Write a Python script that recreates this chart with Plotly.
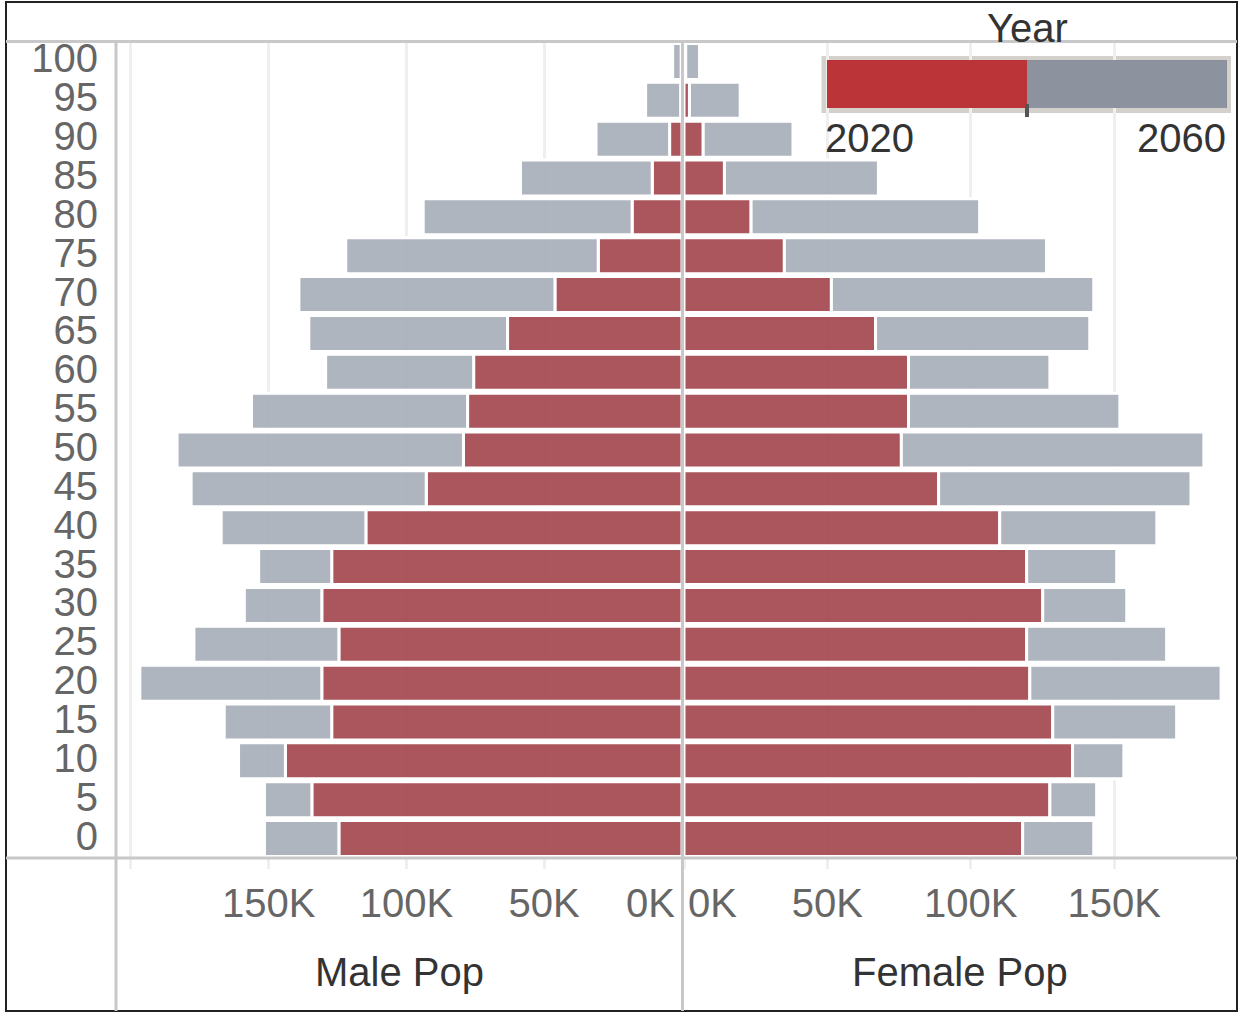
import plotly.graph_objects as go

# ---------------- data ----------------
ages = [0, 5, 10, 15, 20, 25, 30, 35, 40, 45, 50, 55, 60, 65, 70, 75, 80, 85, 90, 95, 100]
age_labels = [str(a) for a in ages]

male_2020 = [124.5, 134.3, 143.9, 127.1, 130.7, 124.5, 130.7, 127.1, 114.7, 92.8, 79.3,
             77.8, 75.6, 63.3, 46.1, 30.4, 18.1, 10.8, 4.5, 0.5, 0.3]
male_2060 = [151.5, 151.5, 160.9, 166.1, 196.7, 177.1, 158.8, 153.6, 167.2, 178.1, 183.2,
             156.2, 129.3, 135.4, 139.0, 122.0, 93.9, 58.6, 31.2, 13.2, 3.4]
female_2020 = [118.1, 127.6, 135.5, 128.6, 120.6, 119.5, 125.1, 119.5, 110.1, 88.8, 75.8,
               78.3, 78.3, 66.8, 51.4, 35.0, 23.4, 14.1, 6.7, 1.9, 0.6]
female_2060 = [142.9, 143.9, 153.4, 171.8, 187.3, 168.3, 154.4, 150.9, 164.9, 176.8, 181.3,
               152.0, 127.6, 141.5, 142.9, 126.4, 103.1, 67.8, 38.0, 19.6, 5.4]

male_ticks = [0, 50, 100, 150, 200]
male_ticktext = ["", "50K", "100K", "150K", ""]
female_ticks = [0, 50, 100, 150]
female_ticktext = ["", "50K", "100K", "150K"]

legend_years = [2020, 2040, 2060]   # range start, handle, range end

# ---------------- styling ----------------
W, H = 1243, 1015
FONT = "Liberation Sans, Arial, sans-serif"
RED = "rgba(162,67,74,0.9)"
GRAY = "rgba(166,173,184,0.9)"
GRID = "#efefef"
RULE = "#c8c8c8"


def px(x):
    return x / W


def py(y):
    return 1 - y / H


K = 1000
fig = go.Figure()

bar_line = dict(color="white", width=3)

# male
fig.add_trace(go.Bar(y=ages, x=[v * K for v in male_2020], orientation="h",
                     marker=dict(color=RED, line=bar_line), xaxis="x", yaxis="y",
                     name="2020", showlegend=False))
fig.add_trace(go.Bar(y=ages, x=[(t - r) * K for t, r in zip(male_2060, male_2020)],
                     base=[r * K for r in male_2020], orientation="h",
                     marker=dict(color=GRAY, line=bar_line), xaxis="x", yaxis="y",
                     name="2060", showlegend=False))
# female
fig.add_trace(go.Bar(y=ages, x=[v * K for v in female_2020], orientation="h",
                     marker=dict(color=RED, line=bar_line), xaxis="x2", yaxis="y2",
                     name="2020", showlegend=False))
fig.add_trace(go.Bar(y=ages, x=[(t - r) * K for t, r in zip(female_2060, female_2020)],
                     base=[r * K for r in female_2020], orientation="h",
                     marker=dict(color=GRAY, line=bar_line), xaxis="x2", yaxis="y2",
                     name="2060", showlegend=False))

# year legend bar
fig.add_trace(go.Bar(y=[0], x=[legend_years[1] - legend_years[0]], base=[legend_years[0]],
                     orientation="h", width=1,
                     marker=dict(color="rgba(181,36,39,0.92)", line=dict(width=0)),
                     xaxis="x3", yaxis="y3", showlegend=False, hoverinfo="skip"))
fig.add_trace(go.Bar(y=[0], x=[legend_years[2] - legend_years[1]], base=[legend_years[1]],
                     orientation="h", width=1,
                     marker=dict(color="rgba(130,137,150,0.92)", line=dict(width=0)),
                     xaxis="x3", yaxis="y3", showlegend=False, hoverinfo="skip"))

tickfont = dict(family=FONT, size=40, color="#666666")
y_dom = [py(858), py(42)]

fig.update_layout(
    width=W, height=H,
    margin=dict(l=0, r=0, t=0, b=0),
    paper_bgcolor="white", plot_bgcolor="rgba(0,0,0,0)",
    barmode="overlay", bargap=0.074,
    font=dict(family=FONT),
    xaxis=dict(domain=[px(117), px(682)], range=[205 * K, 0], anchor="y",
               tickvals=[t * K for t in male_ticks], ticktext=male_ticktext,
               showgrid=True, gridcolor=GRID, gridwidth=3, zeroline=False,
               ticks="outside", ticklen=10, tickwidth=3, tickcolor=GRID,
               tickfont=tickfont, showline=False, automargin=False,
               ticklabelstandoff=0),
    xaxis2=dict(domain=[px(684), px(1236)], range=[0, 192.5 * K], anchor="y2",
                tickvals=[t * K for t in female_ticks], ticktext=female_ticktext,
                showgrid=True, gridcolor=GRID, gridwidth=3, zeroline=False,
                ticks="outside", ticklen=10, tickwidth=3, tickcolor=GRID,
                tickfont=tickfont, showline=False, automargin=False,
                ticklabelstandoff=0),
    yaxis=dict(domain=y_dom, range=[-2.5, 102.5], anchor="x",
               tickvals=ages, ticktext=age_labels, showgrid=False, zeroline=False,
               ticks="", tickfont=tickfont, showline=False, automargin=False,
               ticklabelstandoff=18, ticklabelshift=-3),
    yaxis2=dict(domain=y_dom, range=[-2.5, 102.5], anchor="x2", matches="y",
                showticklabels=False, showgrid=False, zeroline=False, ticks="",
                showline=False),
    xaxis3=dict(domain=[px(827), px(1227)], range=[legend_years[0], legend_years[2]],
                anchor="y3", visible=False, fixedrange=True),
    yaxis3=dict(domain=[py(108), py(60)], range=[-0.5, 0.5], anchor="x3",
                visible=False, fixedrange=True),
)

shapes = [
    # outer frame
    dict(type="rect", xref="paper", yref="paper", x0=px(6), x1=px(1237), y0=py(1011), y1=py(2),
         line=dict(color="#222222", width=2), fillcolor="rgba(0,0,0,0)", layer="above"),
    # header rule
    dict(type="line", xref="paper", yref="paper", x0=px(6), x1=px(1237), y0=py(41.5), y1=py(41.5),
         line=dict(color=RULE, width=3), layer="above"),
    # axis rule
    dict(type="line", xref="paper", yref="paper", x0=px(6), x1=px(1237), y0=py(858), y1=py(858),
         line=dict(color=RULE, width=3), layer="above"),
    # row header divider
    dict(type="line", xref="paper", yref="paper", x0=px(116), x1=px(116), y0=py(1011), y1=py(42),
         line=dict(color=RULE, width=3), layer="above"),
    # centre divider
    dict(type="line", xref="paper", yref="paper", x0=px(682.5), x1=px(682.5), y0=py(1011), y1=py(42),
         line=dict(color=RULE, width=3), layer="above"),
    # legend frame
    dict(type="rect", xref="paper", yref="paper", x0=px(824), x1=px(1228.5), y0=py(110.5), y1=py(58.5),
         line=dict(color="#d4d0cb", width=5), fillcolor="rgba(0,0,0,0)", layer="below"),
    # legend handle
    dict(type="rect", xref="x3", yref="paper", x0=legend_years[1] - 0.2, x1=legend_years[1] + 0.2,
         y0=py(117), y1=py(104), line=dict(width=0), fillcolor="#555555", layer="above"),
]
fig.update_layout(shapes=shapes)

ann_font_dark = dict(family=FONT, size=40, color="#333333")
annotations = [
    dict(text="0K", xref="x", yref="paper", x=0, y=py(903), xanchor="right", yanchor="middle",
         xshift=-5, showarrow=False, font=tickfont),
    dict(text="0K", xref="x2", yref="paper", x=0, y=py(903), xanchor="left", yanchor="middle",
         xshift=2, showarrow=False, font=tickfont),
    dict(text="Male Pop", xref="x domain", yref="paper", x=0.5, y=py(972), xanchor="center",
         yanchor="middle", showarrow=False, font=ann_font_dark),
    dict(text="Female Pop", xref="x2 domain", yref="paper", x=0.5, y=py(972), xanchor="center",
         yanchor="middle", showarrow=False, font=ann_font_dark),
    dict(text="Year", xref="paper", yref="paper", x=px(1027), y=py(28), xanchor="center",
         yanchor="middle", showarrow=False, font=ann_font_dark),
    dict(text=str(legend_years[0]), xref="paper", yref="paper", x=px(823), y=py(138),
         xanchor="left", yanchor="middle", showarrow=False, font=ann_font_dark),
    dict(text=str(legend_years[2]), xref="paper", yref="paper", x=px(1228), y=py(138),
         xanchor="right", yanchor="middle", showarrow=False, font=ann_font_dark),
]
fig.update_layout(annotations=annotations)

fig.write_html("out.html", config={"displayModeBar": False},
               post_script="document.body.style.margin='0px';document.body.style.overflow='hidden';")
